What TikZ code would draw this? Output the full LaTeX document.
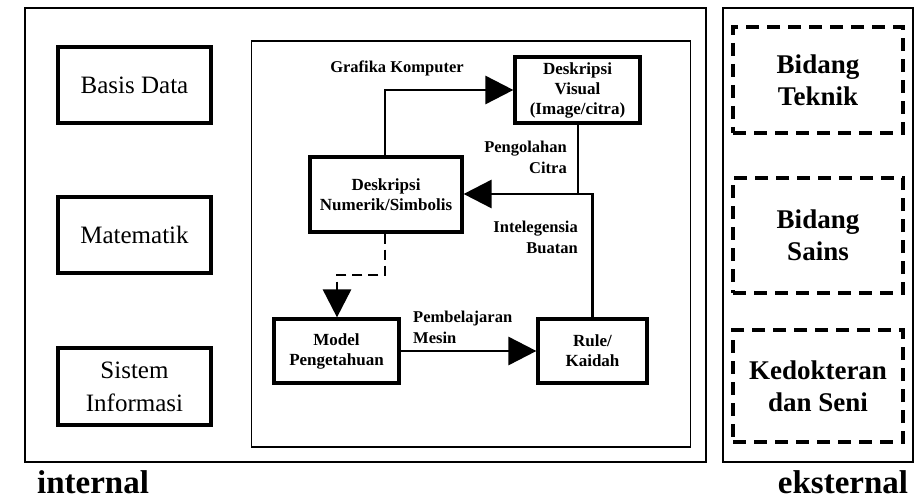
\documentclass[tikz,border=0pt]{standalone}
\usepackage{fontspec}
\setmainfont{Liberation Serif}
\usetikzlibrary{arrows.meta}
\begin{document}
\begin{tikzpicture}[x=1pt,y=-1pt,
  outerbox/.style={draw, line width=1.8pt},
  sidebox/.style={draw, line width=3.2pt, align=center, inner sep=0pt,
    font=\fontsize{25}{33}\selectfont},
  flowbox/.style={draw, line width=3.2pt, align=center, inner sep=0pt,
    font=\bfseries\fontsize{17}{20}\selectfont},
  dashbox/.style={draw, line width=3.5pt, dash pattern=on 13pt off 8pt, align=center, inner sep=0pt,
    font=\bfseries\fontsize{27}{32}\selectfont},
  lab/.style={font=\bfseries\fontsize{16.5}{21}\selectfont, inner sep=0pt},
  conn/.style={line width=2.8pt, -{Triangle[length=28pt,width=28pt]}},
  plain/.style={line width=2.8pt},
  big/.style={font=\bfseries\fontsize{33}{36}\selectfont, inner sep=0pt}
]
\useasboundingbox (0,0) rectangle (915,500);
% outer frames
\node[outerbox, minimum width=681pt, minimum height=454pt, inner sep=0pt] (outerL) at (365.5,235) {};
\node[outerbox, minimum width=190pt, minimum height=454pt, inner sep=0pt] (outerR) at (818,235) {};
\node[outerbox, minimum width=439pt, minimum height=406pt, inner sep=0pt] (inner) at (471,244) {};
% left boxes
\node[sidebox, minimum width=153pt, minimum height=76pt] (basis) at (134.5,85) {Basis Data};
\node[sidebox, minimum width=153pt, minimum height=76pt] (mat) at (134.5,235) {Matematik};
\node[sidebox, minimum width=153pt, minimum height=77pt] (sis) at (134.5,386.5) {Sistem\\Informasi};
% right dashed boxes
\node[dashbox, minimum width=170pt, minimum height=106pt] (tek) at (818,80) {Bidang\\Teknik};
\node[dashbox, minimum width=170pt, minimum height=115pt] (sains) at (818,235.5) {Bidang\\Sains};
\node[dashbox, minimum width=170pt, minimum height=112pt] (kedok) at (818,386) {Kedokteran\\dan Seni};
% flow boxes
\node[flowbox, minimum width=125pt, minimum height=66pt] (vis) at (577.5,90) {Deskripsi\\Visual\\(Image/citra)};
\node[flowbox, minimum width=152pt, minimum height=75pt] (num) at (386,194.5) {Deskripsi\\Numerik/Simbolis};
\node[flowbox, minimum width=125pt, minimum height=64pt] (model) at (336.5,351) {Model\\Pengetahuan};
\node[flowbox, minimum width=109pt, minimum height=64pt] (rule) at (592.5,351) {Rule/\\Kaidah};
% connectors
\coordinate (g1) at (385,90);
\draw[conn] (num.north -| g1) -- (g1) -- (vis.west);
\coordinate (j) at (578,194);
\draw[plain] (vis.south -| j) -- (j);
\draw[conn] (rule.north) -- (rule.north |- j) -- (num.east |- j);
\coordinate (d1) at (385,275);
\coordinate (d2) at (337,275);
\draw[conn, dash pattern=on 10pt off 6pt] (num.south -| d1) -- (d1) -- (d2) -- (model.north -| d2);
\draw[conn] (model.east) -- (rule.west);
% labels
\node[lab] (lgraf) at (397,68) {Grafika Komputer};
\node[lab, align=right, anchor=east] (lpeng) at (567,157) {Pengolahan\\Citra};
\node[lab, align=right, anchor=east] (lint) at (578,237) {Intelegensia\\Buatan};
\node[lab, align=left, anchor=west] (lpem) at (413,327) {Pembelajaran\\Mesin};
\node[big] (lin) at (93,482) {internal};
\node[big] (lek) at (843,482) {eksternal};
\end{tikzpicture}
\end{document}
